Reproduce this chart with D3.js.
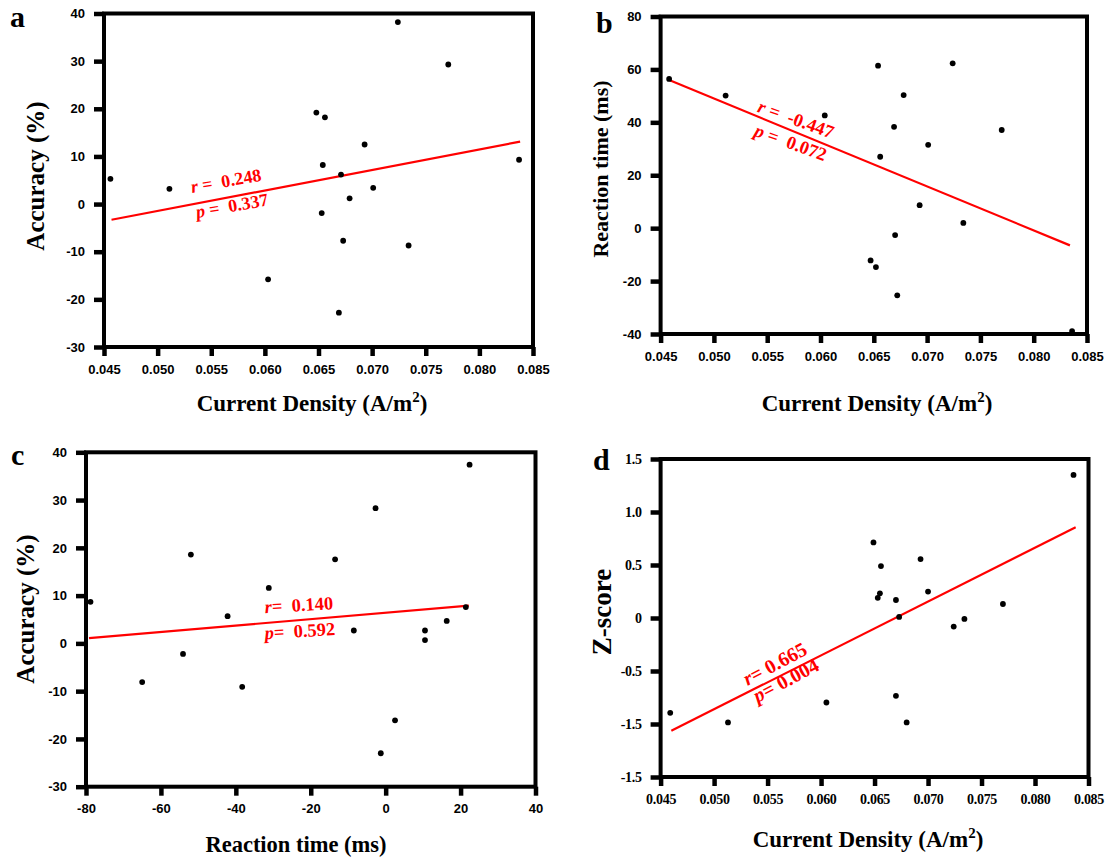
<!DOCTYPE html>
<html>
<head>
<meta charset="utf-8">
<script src="https://cdn.jsdelivr.net/npm/d3@7"></script>
<style>
body { margin: 0; background: #fff; }
svg { display: block; }
.axis .tick text { font-family: "Liberation Sans", Arial, sans-serif; font-weight: bold; font-size: 13px; fill: #000; }
.axis.serif .tick text { font-family: "Liberation Serif", "Times New Roman", serif; font-size: 14px; letter-spacing: -0.3px; }
.axis .tick line { stroke: #000; stroke-width: 4.5; }
.axis-title, .panel-letter { font-family: "Liberation Serif", "Times New Roman", serif; font-weight: bold; fill: #000; }
.stat { font-family: "Liberation Serif", "Times New Roman", serif; font-weight: bold; fill: #ff0000; white-space: pre; }
</style>
</head>
<body>
<div id="chart-area"></div>
<script>
// ---- data ----
// a: current density vs accuracy
var aCurrent  = [0.0456, 0.0511, 0.0603, 0.0648, 0.0656, 0.0654, 0.0653, 0.0671, 0.0669, 0.0673, 0.0679, 0.0693, 0.0701, 0.0724, 0.0734, 0.0771, 0.0837];
var aAccuracy = [5.3, 3.2, -15.8, 19.2, 18.2, 8.2, -1.9, 6.2, -22.8, -7.7, 1.2, 12.5, 3.4, 38.2, -8.7, 29.3, 9.3];
var aFit = [[0.0457, -3.3], [0.0838, 13.1]];
var aStats = ["0.248", "0.337"];

// b: current density vs reaction time
var bCurrent  = [0.0458, 0.0511, 0.0604, 0.0654, 0.0656, 0.0647, 0.0652, 0.0669, 0.0670, 0.0672, 0.0678, 0.0693, 0.0701, 0.0724, 0.0734, 0.0770, 0.0836];
var bReaction = [56.4, 50.1, 42.6, 61.4, 27, -12.2, -14.7, 38.3, -2.6, -25.4, 50.3, 8.7, 31.5, 62.3, 2, 37.1, -38.9];
var bFit = [[0.0458, 56], [0.0834, -6.5]];
var bStats = ["-0.447", "0.072"];

// c: reaction time vs accuracy
var cReaction = [-78.8, -65, -54.1, -52, -42.2, -38.3, -31.2, -13.5, -8.5, -2.7, -1.3, 2.5, 10.5, 10.5, 16.3, 21.4, 22.4];
var cAccuracy = [8.7, -8.1, -2.2, 18.6, 5.7, -9.1, 11.6, 17.6, 2.7, 28.3, -23, -16.1, 2.7, 0.7, 4.7, 7.6, 37.4];
var cFit = [[-79.2, 1.1], [22.2, 7.9]];
var cStats = ["0.140", "0.592"];

// d: current density vs z-score
var dCurrent = [0.0459, 0.0513, 0.0605, 0.0649, 0.0656, 0.0655, 0.0653, 0.0670, 0.0673, 0.0670, 0.0680, 0.0693, 0.0700, 0.0724, 0.0734, 0.0770, 0.0836];
var dZscore  = [-0.895, -0.985, -0.797, 0.713, 0.49, 0.233, 0.19, 0.17, 0.01, -0.734, -0.985, 0.556, 0.249, -0.081, -0.009, 0.132, 1.35];
var dFit = [[0.0460, -1.064], [0.0838, 0.857]];
var dStats = ["0.665", "0.004"];

// tick values and labels
var currentTicks = [0.045, 0.050, 0.055, 0.060, 0.065, 0.070, 0.075, 0.080, 0.085];
var currentLabels = ["0.045", "0.050", "0.055", "0.060", "0.065", "0.070", "0.075", "0.080", "0.085"];
var accuracyTicks = [40, 30, 20, 10, 0, -10, -20, -30];
var accuracyLabels = ["40", "30", "20", "10", "0", "-10", "-20", "-30"];
var reactionTicksB = [80, 60, 40, 20, 0, -20, -40];
var reactionLabelsB = ["80", "60", "40", "20", "0", "-20", "-40"];
var reactionTicksC = [-80, -60, -40, -20, 0, 20, 40];
var reactionLabelsC = ["-80", "-60", "-40", "-20", "0", "20", "40"];
var zTicks = [1.5, 1.0, 0.5, 0, -0.5, -1.0, -1.5];
var zLabels = ["1.5", "1.0", "0.5", "0", "-0.5", "-1.5", "-1.5"];

var svg = d3.select("#chart-area").append("svg")
    .attr("width", 1107)
    .attr("height", 860);

var panels = [
    { letter: "a", lx: 10, ly: 27,
      box: { left: 104, right: 533, top: 13.5, bottom: 347 },
      xDomain: [0.045, 0.085], xTicks: currentTicks, xLabels: currentLabels,
      yDomain: [-30, 40], yTicks: accuracyTicks, yLabels: accuracyLabels,
      xs: aCurrent, ys: aAccuracy, fit: aFit, stats: aStats,
      xTitle: "current", xtx: 312, xty: 411, xtSize: 23,
      yTitle: "Accuracy (%)", ytx: 44, yty: 176, ytSize: 25,
      rPos: [88, 179.5], pPos: [93, 204.5], angle: -10, statSize: 18, rSep: " =  ", pSep: " =  " },
    { letter: "b", lx: 596, ly: 33,
      box: { left: 660.6, right: 1087, top: 16.5, bottom: 334 },
      xDomain: [0.045, 0.085], xTicks: currentTicks, xLabels: currentLabels,
      yDomain: [-40, 80], yTicks: reactionTicksB, yLabels: reactionLabelsB,
      xs: bCurrent, ys: bReaction, fit: bFit, stats: bStats,
      xTitle: "current", xtx: 877, xty: 411, xtSize: 23,
      yTitle: "Reaction time (ms)", ytx: 608, yty: 169, ytSize: 22,
      rPos: [96, 95], pPos: [92.7, 119], angle: 20, statSize: 18.5, rSep: " =  ", pSep: " =  " },
    { letter: "c", lx: 11, ly: 465,
      box: { left: 86, right: 535.5, top: 452.3, bottom: 786.7 },
      xDomain: [-80, 40], xTicks: reactionTicksC, xLabels: reactionLabelsC,
      yDomain: [-30, 40], yTicks: accuracyTicks, yLabels: accuracyLabels,
      xs: cReaction, ys: cAccuracy, fit: cFit, stats: cStats,
      xTitle: "Reaction time (ms)", xtx: 296, xty: 852, xtSize: 22.5,
      yTitle: "Accuracy (%)", ytx: 34, yty: 609, ytSize: 25,
      rPos: [179, 161], pPos: [179, 187], angle: -3.5, statSize: 18.5, rSep: "=  ", pSep: "=  " },
    { letter: "d", lx: 593, ly: 470, serif: true,
      box: { left: 660.6, right: 1088.5, top: 459, bottom: 777 },
      xDomain: [0.045, 0.085], xTicks: currentTicks, xLabels: currentLabels,
      yDomain: [-1.5, 1.5], yTicks: zTicks, yLabels: zLabels,
      xs: dCurrent, ys: dZscore, fit: dFit, stats: dStats,
      xTitle: "current", xtx: 868, xty: 847, xtSize: 23,
      yTitle: "Z-score", ytx: 611, yty: 612, ytSize: 27,
      rPos: [87, 227], pPos: [97, 244], angle: -28, statSize: 20, rSep: "= ", pSep: "= " }
];

panels.forEach(drawPanel);

function drawPanel(p) {
    var b = p.box;
    var x = d3.scaleLinear().domain(p.xDomain).range([b.left, b.right]);
    var y = d3.scaleLinear().domain(p.yDomain).range([b.bottom, b.top]);

    var g = svg.append("g").attr("class", "panel-" + p.letter);

    // Axes
    var xAxisCall = d3.axisBottom(x)
        .tickValues(p.xTicks)
        .tickFormat(function(d, i) { return p.xLabels[i]; })
        .tickSize(9)
        .tickPadding(8.5);
    var yAxisCall = d3.axisLeft(y)
        .tickValues(p.yTicks)
        .tickFormat(function(d, i) { return p.yLabels[i]; })
        .tickSize(10)
        .tickPadding(9);

    var xAxis = g.append("g")
        .attr("class", "axis" + (p.serif ? " serif" : ""))
        .attr("transform", "translate(0," + b.bottom + ")")
        .call(xAxisCall);
    var yAxis = g.append("g")
        .attr("class", "axis" + (p.serif ? " serif" : ""))
        .attr("transform", "translate(" + b.left + ",0)")
        .call(yAxisCall);
    xAxis.select(".domain").remove();
    yAxis.select(".domain").remove();

    // Frame
    g.append("rect")
        .attr("x", b.left)
        .attr("y", b.top)
        .attr("width", b.right - b.left)
        .attr("height", b.bottom - b.top)
        .attr("fill", "none")
        .attr("stroke", "#000")
        .attr("stroke-width", 4);

    // Fit line
    var line = d3.line()
        .x(function(d) { return x(d[0]); })
        .y(function(d) { return y(d[1]); });
    g.append("path")
        .attr("d", line(p.fit))
        .attr("fill", "none")
        .attr("stroke", "#ff0000")
        .attr("stroke-width", 2.2);

    // Points
    g.selectAll("circle.pt")
        .data(p.xs)
        .enter().append("circle")
        .attr("class", "pt")
        .attr("cx", function(d) { return x(d); })
        .attr("cy", function(d, i) { return y(p.ys[i]); })
        .attr("r", 2.9)
        .attr("fill", "#000");

    // r / p labels
    [["r", p.rSep, p.stats[0], p.rPos], ["p", p.pSep, p.stats[1], p.pPos]].forEach(function(s) {
        var t = g.append("text")
            .attr("class", "stat")
            .attr("font-size", p.statSize)
            .attr("transform", "translate(" + (b.left + s[3][0]) + "," + (b.top + s[3][1]) + ") rotate(" + p.angle + ")");
        t.append("tspan").attr("font-style", "italic").text(s[0]);
        t.append("tspan").text(s[1] + s[2]);
    });

    // Axis titles
    var xt = g.append("text")
        .attr("class", "axis-title")
        .attr("x", p.xtx)
        .attr("y", p.xty)
        .attr("font-size", p.xtSize)
        .attr("text-anchor", "middle");
    if (p.xTitle === "current") {
        xt.append("tspan").text("Current Density (A/m");
        xt.append("tspan").attr("font-size", p.xtSize * 0.65).attr("dy", -9).text("2");
        xt.append("tspan").attr("dy", 9).text(")");
    } else {
        xt.text(p.xTitle);
    }

    g.append("text")
        .attr("class", "axis-title")
        .attr("transform", "translate(" + p.ytx + "," + p.yty + ") rotate(-90)")
        .attr("font-size", p.ytSize)
        .attr("text-anchor", "middle")
        .text(p.yTitle);

    // Panel letter
    g.append("text")
        .attr("class", "panel-letter")
        .attr("x", p.lx)
        .attr("y", p.ly)
        .attr("font-size", 30)
        .text(p.letter);
}
</script>
</body>
</html>
